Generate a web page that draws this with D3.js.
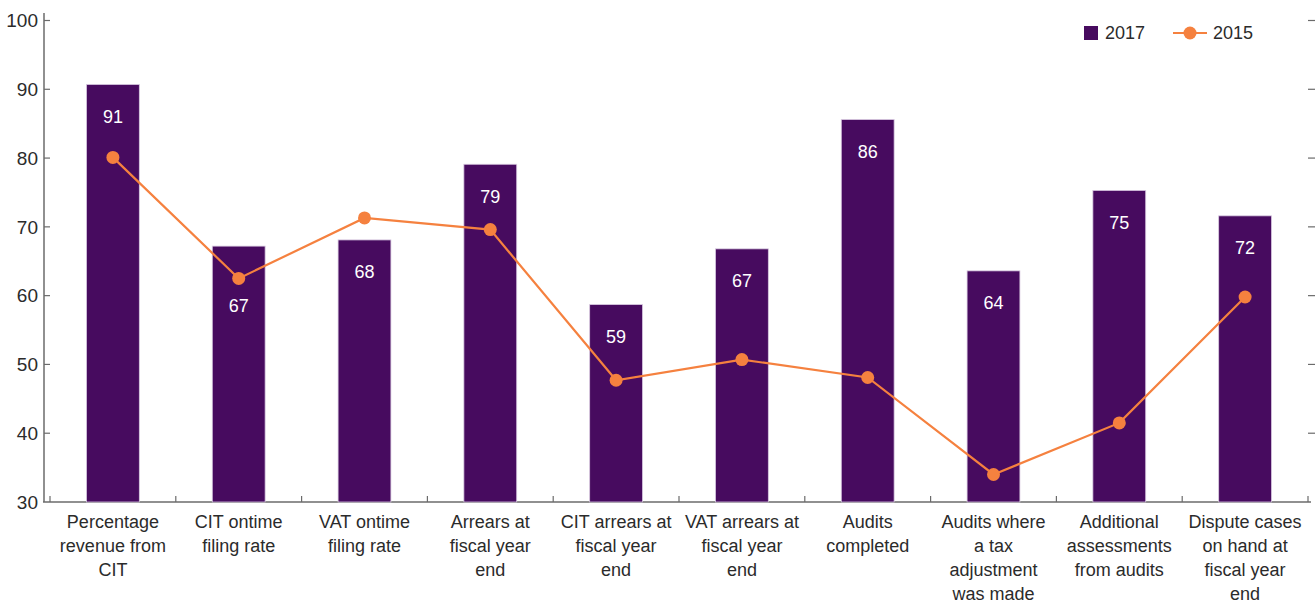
<!DOCTYPE html>
<html>
<head>
<meta charset="utf-8">
<script src="https://cdn.jsdelivr.net/npm/d3@7"></script>
<style>
  body { margin: 0; background: #fff; }
  svg text { font-family: "Liberation Sans Narrow", "Arial Narrow", "Liberation Sans", Arial, sans-serif; fill: #2b2b2b; }
</style>
</head>
<body>
<svg id="chart" width="1315" height="605"></svg>
<script>
// Categories (line breaks as in the original labels)
var categories = [
    "Percentage\nrevenue from\nCIT",
    "CIT ontime\nfiling rate",
    "VAT ontime\nfiling rate",
    "Arrears at\nfiscal year\nend",
    "CIT arrears at\nfiscal year\nend",
    "VAT arrears at\nfiscal year\nend",
    "Audits\ncompleted",
    "Audits where\na tax\nadjustment\nwas made",
    "Additional\nassessments\nfrom audits",
    "Dispute cases\non hand at\nfiscal year\nend"
];

// 2017 bars (heights; labels show them rounded)
var values2017 = [90.7, 67.2, 68.1, 79.1, 58.7, 66.8, 85.6, 63.6, 75.3, 71.6];

// 2015 line
var values2015 = [80.1, 62.5, 71.3, 69.6, 47.7, 50.7, 48.1, 34.0, 41.5, 59.8];

var yTicks = [30, 40, 50, 60, 70, 80, 90, 100];

var barColor = "#470b5f";
var lineColor = "#f5813f";
var axisColor = "#6b6b6b";

var svg = d3.select("#chart");

var x = d3.scaleBand()
    .domain(d3.range(categories.length))
    .range([50, 1308])
    .paddingInner(0.58)
    .paddingOuter(0.29);

var y = d3.scaleLinear()
    .domain([30, 100])
    .range([502, 20.5]);

var fmt = d3.format(".0f");
var xCenter = function(i) { return x(i) + x.bandwidth() / 2; };
var bandStart = function(i) { return x(i) - x.step() * x.paddingOuter(); };

// Left axis
var yAxis = svg.append("g").attr("class", "y-axis");
yAxis.append("line")
    .attr("x1", 44).attr("x2", 44)
    .attr("y1", 13).attr("y2", y(30))
    .attr("stroke", axisColor).attr("stroke-width", 1.5);
yAxis.selectAll(".tick").data(yTicks.slice(1)).enter().append("line")
    .attr("x1", 44).attr("x2", 50)
    .attr("y1", function(d){ return y(d); })
    .attr("y2", function(d){ return y(d); })
    .attr("stroke", axisColor).attr("stroke-width", 1.2);
yAxis.selectAll("text").data(yTicks).enter().append("text")
    .attr("x", 38)
    .attr("y", function(d){ return y(d); })
    .attr("dy", "0.35em")
    .attr("text-anchor", "end")
    .style("font-size", "19px")
    .text(function(d){ return d; });

// Right-side tick marks (no labels)
svg.append("g").selectAll("line").data(yTicks.slice(1)).enter().append("line")
    .attr("x1", 1308).attr("x2", 1315)
    .attr("y1", function(d){ return y(d); })
    .attr("y2", function(d){ return y(d); })
    .attr("stroke", axisColor).attr("stroke-width", 1.2);

// Bottom axis
var xAxis = svg.append("g").attr("class", "x-axis");
xAxis.append("line")
    .attr("x1", 43).attr("x2", 1311)
    .attr("y1", y(30)).attr("y2", y(30))
    .attr("stroke", axisColor).attr("stroke-width", 1.5);
xAxis.selectAll(".tick").data(d3.range(categories.length + 1)).enter().append("line")
    .attr("x1", function(d){ return d < categories.length ? bandStart(d) : bandStart(d - 1) + x.step(); })
    .attr("x2", function(d){ return d < categories.length ? bandStart(d) : bandStart(d - 1) + x.step(); })
    .attr("y1", y(30)).attr("y2", y(30) - 6)
    .attr("stroke", axisColor).attr("stroke-width", 1.2);

var catLabels = xAxis.selectAll(".cat").data(categories).enter().append("text")
    .attr("class", "cat")
    .attr("text-anchor", "middle")
    .style("font-size", "18px")
    .attr("transform", function(d, i){ return "translate(" + xCenter(i) + "," + 528 + ")"; });
catLabels.each(function(d){
    var lines = d.split("\n");
    d3.select(this).selectAll("tspan").data(lines).enter().append("tspan")
        .attr("x", 0)
        .attr("dy", function(l, j){ return j === 0 ? 0 : 24; })
        .text(function(l){ return l; });
});

// Bars
svg.append("g").selectAll("rect").data(values2017).enter().append("rect")
    .attr("x", function(d, i){ return x(i); })
    .attr("y", function(d){ return y(d); })
    .attr("width", x.bandwidth())
    .attr("height", function(d){ return y(30) - y(d); })
    .attr("fill", barColor)
    .attr("stroke", "#d8c9e0")
    .attr("stroke-width", 0.8);

// Line
var line = d3.line()
    .x(function(d, i){ return xCenter(i); })
    .y(function(d){ return y(d); });

svg.append("path")
    .datum(values2015)
    .attr("d", line)
    .attr("fill", "none")
    .attr("stroke", lineColor)
    .attr("stroke-width", 2.2);

svg.append("g").selectAll("circle").data(values2015).enter().append("circle")
    .attr("cx", function(d, i){ return xCenter(i); })
    .attr("cy", function(d){ return y(d); })
    .attr("r", 6.5)
    .attr("fill", lineColor);

// Value labels inside bars; move below the dot when they would collide
svg.append("g").selectAll("text").data(values2017).enter().append("text")
    .attr("x", function(d, i){ return xCenter(i); })
    .attr("y", function(d, i){
        var ly = y(d) + 32;
        var dy = y(values2015[i]);
        if (Math.abs(ly - dy) < 22) ly = dy + 27;
        return ly;
    })
    .attr("dy", "0.35em")
    .attr("text-anchor", "middle")
    .style("font-size", "18px")
    .style("fill", "#fff")
    .text(function(d){ return fmt(d); });

// Legend
var legend = svg.append("g").attr("class", "legend");
legend.append("rect")
    .attr("x", 1084).attr("y", 26).attr("width", 14).attr("height", 14)
    .attr("fill", barColor);
legend.append("text")
    .attr("x", 1105).attr("y", 33).attr("dy", "0.35em")
    .style("font-size", "18px")
    .text("2017");
legend.append("line")
    .attr("x1", 1173).attr("x2", 1207).attr("y1", 33).attr("y2", 33)
    .attr("stroke", lineColor).attr("stroke-width", 2.2);
legend.append("circle")
    .attr("cx", 1190).attr("cy", 33).attr("r", 6.5)
    .attr("fill", lineColor);
legend.append("text")
    .attr("x", 1213).attr("y", 33).attr("dy", "0.35em")
    .style("font-size", "18px")
    .text("2015");
</script>
</body>
</html>
